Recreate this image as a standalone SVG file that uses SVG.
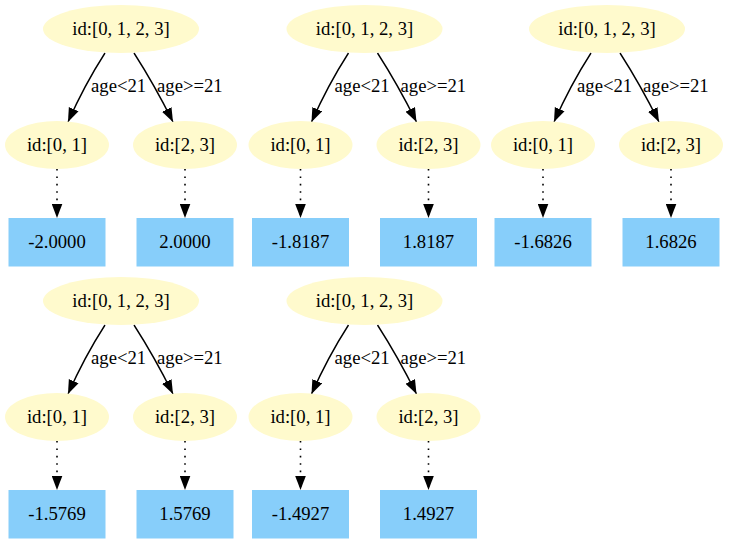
<svg xmlns="http://www.w3.org/2000/svg" width="729" height="544" viewBox="0 0 729 544">
<style>
.split{fill:#FFFACD;stroke:none}
.leaf{fill:#87CEFA;stroke:none}
text{font-family:"Liberation Serif","Times New Roman",serif;font-size:18.7px;fill:#000}
.c{text-anchor:middle}
.e{fill:none;stroke:#000;stroke-width:1.4}
.d{fill:none;stroke:#000;stroke-width:1.6;stroke-dasharray:1.6,5.8}
</style>
<defs>
<marker id="ah" viewBox="0 0 14 11" refX="14" refY="5.5" markerWidth="14" markerHeight="11" markerUnits="userSpaceOnUse" orient="auto">
<path d="M0,0.2 L14,5.5 L0,10.8 Z" fill="#000"/>
</marker>
</defs>
<rect width="729" height="544" fill="#fff"/>

<g id="connectors">
<g transform="translate(0,0)">
<path class="e" d="M105,53 C96,67 84,86 68,122" marker-end="url(#ah)"/>
<path class="e" d="M134,53 C143,67 156,88 173,122" marker-end="url(#ah)"/>
<path class="d" d="M57,169 L57,218" marker-end="url(#ah)"/>
<path class="d" d="M185,169 L185,218" marker-end="url(#ah)"/>
</g>
<g transform="translate(243.5,0)">
<path class="e" d="M105,53 C96,67 84,86 68,122" marker-end="url(#ah)"/>
<path class="e" d="M134,53 C143,67 156,88 173,122" marker-end="url(#ah)"/>
<path class="d" d="M57,169 L57,218" marker-end="url(#ah)"/>
<path class="d" d="M185,169 L185,218" marker-end="url(#ah)"/>
</g>
<g transform="translate(486,0)">
<path class="e" d="M105,53 C96,67 84,86 68,122" marker-end="url(#ah)"/>
<path class="e" d="M134,53 C143,67 156,88 173,122" marker-end="url(#ah)"/>
<path class="d" d="M57,169 L57,218" marker-end="url(#ah)"/>
<path class="d" d="M185,169 L185,218" marker-end="url(#ah)"/>
</g>
<g transform="translate(0,272)">
<path class="e" d="M105,53 C96,67 84,86 68,122" marker-end="url(#ah)"/>
<path class="e" d="M134,53 C143,67 156,88 173,122" marker-end="url(#ah)"/>
<path class="d" d="M57,169 L57,218" marker-end="url(#ah)"/>
<path class="d" d="M185,169 L185,218" marker-end="url(#ah)"/>
</g>
<g transform="translate(243.5,272)">
<path class="e" d="M105,53 C96,67 84,86 68,122" marker-end="url(#ah)"/>
<path class="e" d="M134,53 C143,67 156,88 173,122" marker-end="url(#ah)"/>
<path class="d" d="M57,169 L57,218" marker-end="url(#ah)"/>
<path class="d" d="M185,169 L185,218" marker-end="url(#ah)"/>
</g>
</g>

<g id="labels">
<g transform="translate(0,0)"><text x="91" y="92">age&lt;21</text><text x="157" y="92">age&gt;=21</text></g>
<g transform="translate(243.5,0)"><text x="91" y="92">age&lt;21</text><text x="157" y="92">age&gt;=21</text></g>
<g transform="translate(486,0)"><text x="91" y="92">age&lt;21</text><text x="157" y="92">age&gt;=21</text></g>
<g transform="translate(0,272)"><text x="91" y="92">age&lt;21</text><text x="157" y="92">age&gt;=21</text></g>
<g transform="translate(243.5,272)"><text x="91" y="92">age&lt;21</text><text x="157" y="92">age&gt;=21</text></g>
</g>

<g id="tree1" transform="translate(0,0)">
<g id="t1_root"><ellipse class="split" cx="121" cy="29" rx="78" ry="24"/><text class="c" x="121" y="35">id:[0, 1, 2, 3]</text></g>
<g id="t1_left"><ellipse class="split" cx="57" cy="145" rx="52" ry="24"/><text class="c" x="57" y="151">id:[0, 1]</text></g>
<g id="t1_right"><ellipse class="split" cx="185" cy="145" rx="52" ry="24"/><text class="c" x="185" y="151">id:[2, 3]</text></g>
<g id="t1_leafL"><rect class="leaf" x="8.5" y="218" width="97" height="48.5"/><text class="c" x="57" y="248">-2.0000</text></g>
<g id="t1_leafR"><rect class="leaf" x="136.5" y="218" width="97" height="48.5"/><text class="c" x="185" y="248">2.0000</text></g>
</g>

<g id="tree2" transform="translate(243.5,0)">
<g id="t2_root"><ellipse class="split" cx="121" cy="29" rx="78" ry="24"/><text class="c" x="121" y="35">id:[0, 1, 2, 3]</text></g>
<g id="t2_left"><ellipse class="split" cx="57" cy="145" rx="52" ry="24"/><text class="c" x="57" y="151">id:[0, 1]</text></g>
<g id="t2_right"><ellipse class="split" cx="185" cy="145" rx="52" ry="24"/><text class="c" x="185" y="151">id:[2, 3]</text></g>
<g id="t2_leafL"><rect class="leaf" x="8.5" y="218" width="97" height="48.5"/><text class="c" x="57" y="248">-1.8187</text></g>
<g id="t2_leafR"><rect class="leaf" x="136.5" y="218" width="97" height="48.5"/><text class="c" x="185" y="248">1.8187</text></g>
</g>

<g id="tree3" transform="translate(486,0)">
<g id="t3_root"><ellipse class="split" cx="121" cy="29" rx="78" ry="24"/><text class="c" x="121" y="35">id:[0, 1, 2, 3]</text></g>
<g id="t3_left"><ellipse class="split" cx="57" cy="145" rx="52" ry="24"/><text class="c" x="57" y="151">id:[0, 1]</text></g>
<g id="t3_right"><ellipse class="split" cx="185" cy="145" rx="52" ry="24"/><text class="c" x="185" y="151">id:[2, 3]</text></g>
<g id="t3_leafL"><rect class="leaf" x="8.5" y="218" width="97" height="48.5"/><text class="c" x="57" y="248">-1.6826</text></g>
<g id="t3_leafR"><rect class="leaf" x="136.5" y="218" width="97" height="48.5"/><text class="c" x="185" y="248">1.6826</text></g>
</g>

<g id="tree4" transform="translate(0,272)">
<g id="t4_root"><ellipse class="split" cx="121" cy="29" rx="78" ry="24"/><text class="c" x="121" y="35">id:[0, 1, 2, 3]</text></g>
<g id="t4_left"><ellipse class="split" cx="57" cy="145" rx="52" ry="24"/><text class="c" x="57" y="151">id:[0, 1]</text></g>
<g id="t4_right"><ellipse class="split" cx="185" cy="145" rx="52" ry="24"/><text class="c" x="185" y="151">id:[2, 3]</text></g>
<g id="t4_leafL"><rect class="leaf" x="8.5" y="218" width="97" height="48.5"/><text class="c" x="57" y="248">-1.5769</text></g>
<g id="t4_leafR"><rect class="leaf" x="136.5" y="218" width="97" height="48.5"/><text class="c" x="185" y="248">1.5769</text></g>
</g>

<g id="tree5" transform="translate(243.5,272)">
<g id="t5_root"><ellipse class="split" cx="121" cy="29" rx="78" ry="24"/><text class="c" x="121" y="35">id:[0, 1, 2, 3]</text></g>
<g id="t5_left"><ellipse class="split" cx="57" cy="145" rx="52" ry="24"/><text class="c" x="57" y="151">id:[0, 1]</text></g>
<g id="t5_right"><ellipse class="split" cx="185" cy="145" rx="52" ry="24"/><text class="c" x="185" y="151">id:[2, 3]</text></g>
<g id="t5_leafL"><rect class="leaf" x="8.5" y="218" width="97" height="48.5"/><text class="c" x="57" y="248">-1.4927</text></g>
<g id="t5_leafR"><rect class="leaf" x="136.5" y="218" width="97" height="48.5"/><text class="c" x="185" y="248">1.4927</text></g>
</g>
</svg>
